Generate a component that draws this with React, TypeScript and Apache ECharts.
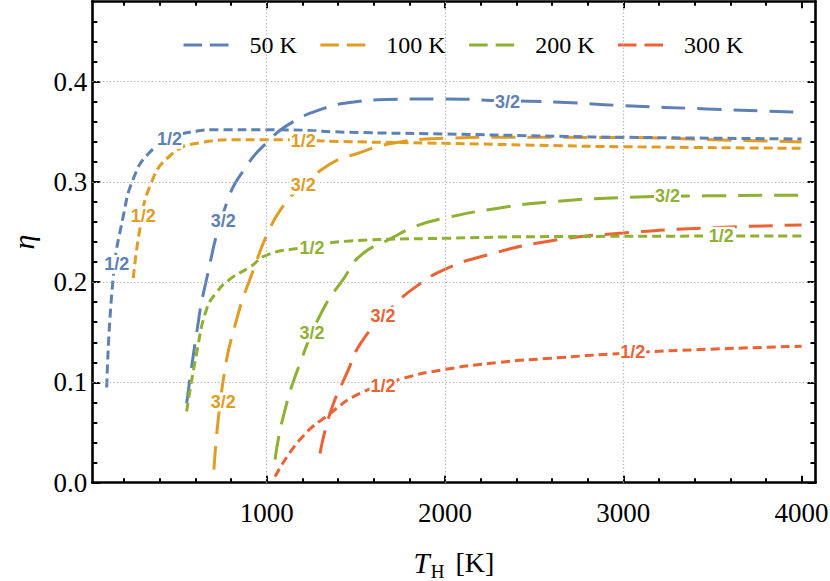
import React, { useEffect, useRef } from "react";
import * as echarts from "echarts";

// ---- axes / ticks ----
const X_MIN = 22;
const X_MAX = 4078;
const Y_MIN = 0;
const Y_MAX = 0.48;
const xMajorTicks = [1000, 2000, 3000, 4000];
const xMinorTicks = [200, 400, 600, 800, 1200, 1400, 1600, 1800, 2200, 2400, 2600, 2800, 3200, 3400, 3600, 3800];
const yMajorTicks = [0, 0.1, 0.2, 0.3, 0.4];
const yMinorTicks = [0.02, 0.04, 0.06, 0.08, 0.12, 0.14, 0.16, 0.18, 0.22, 0.24, 0.26, 0.28, 0.32, 0.34, 0.36, 0.38, 0.42, 0.44, 0.46];
const xGridLines = [1000, 2000, 3000];
const yGridLines = [0.1, 0.2, 0.3, 0.4];

// ---- series ----
const legendNames = ["50 K", "100 K", "200 K", "300 K"];
const colors = ["#5E81B5", "#E19C24", "#8FB032", "#EB6235"];

// exponent 3/2 (long dashes)
const threeHalf50 = [[551, 0.079], [607, 0.149], [654, 0.196], [776, 0.279], [888, 0.316], [1000, 0.339], [1131, 0.358], [1317, 0.373], [1467, 0.379], [1673, 0.382], [2000, 0.3827], [2308, 0.381], [2645, 0.3794], [3000, 0.376], [3468, 0.3727], [4000, 0.3694]];
const threeHalf100 = [[704, 0.013], [757, 0.103], [832, 0.163], [925, 0.212], [1019, 0.254], [1093, 0.276], [1149, 0.288], [1299, 0.311], [1411, 0.323], [1486, 0.327], [1692, 0.338], [2000, 0.3434], [2308, 0.3444], [3000, 0.3442], [3500, 0.342], [4000, 0.3398]];
const threeHalf200 = [[1047, 0.023], [1093, 0.066], [1187, 0.119], [1317, 0.173], [1430, 0.203], [1523, 0.226], [1692, 0.243], [1841, 0.256], [2002, 0.264], [2308, 0.274], [2589, 0.28], [3000, 0.2844], [3468, 0.286], [4000, 0.2867]];
const threeHalf300 = [[1299, 0.029], [1355, 0.069], [1449, 0.109], [1542, 0.143], [1710, 0.176], [1841, 0.196], [2002, 0.213], [2215, 0.226], [2589, 0.241], [3000, 0.249], [3468, 0.254], [4000, 0.257]];

// exponent 1/2 (short dashes)
const half50 = [[103, 0.095], [140, 0.206], [196, 0.266], [252, 0.303], [336, 0.328], [458, 0.342], [551, 0.349], [757, 0.352], [1000, 0.352], [1467, 0.3494], [2000, 0.3477], [2645, 0.3454], [3000, 0.3444], [4000, 0.3427]];
const half100 = [[252, 0.204], [289, 0.253], [346, 0.296], [458, 0.326], [626, 0.339], [850, 0.342], [1000, 0.342], [1467, 0.34], [2000, 0.3384], [2645, 0.336], [3000, 0.335], [4000, 0.3334]];
const half200 = [[551, 0.071], [607, 0.129], [663, 0.173], [720, 0.19], [794, 0.203], [906, 0.215], [1000, 0.227], [1187, 0.234], [1467, 0.241], [2000, 0.2437], [2589, 0.2454], [4000, 0.246]];
const half300 = [[1047, 0.006], [1187, 0.043], [1355, 0.069], [1523, 0.089], [1766, 0.104], [2002, 0.113], [2308, 0.12], [2589, 0.124], [3000, 0.129], [3468, 0.133], [4000, 0.136]];

// curve labels: [x, y, text]
const labels50 = [[159, 0.2177, "1/2"], [455, 0.3424, "1/2"], [756, 0.261, "3/2"], [2350, 0.38, "3/2"]];
const labels100 = [[308, 0.2664, "1/2"], [1205, 0.3405, "1/2"], [1205, 0.2969, "3/2"], [756, 0.0805, "3/2"]];
const labels200 = [[1254, 0.2339, "1/2"], [3550, 0.2457, "1/2"], [1254, 0.1494, "3/2"], [3248, 0.2854, "3/2"]];
const labels300 = [[1653, 0.0965, "1/2"], [3053, 0.13, "1/2"], [1653, 0.166, "3/2"]];

const threeHalfAll = [threeHalf50, threeHalf100, threeHalf200, threeHalf300];
const halfAll = [half50, half100, half200, half300];
const labelsAll = [labels50, labels100, labels200, labels300];

const SERIF = "'Liberation Serif', 'DejaVu Serif', serif";
const SANS = "'Liberation Sans', Arial, sans-serif";

export default function App() {
  const ref = useRef<HTMLDivElement>(null);

  useEffect(() => {
    if (!ref.current) return;
    const chart = echarts.init(ref.current, null, { renderer: "svg" });

    const frame = { show: true, onZero: false, lineStyle: { color: "#000", width: 2.6 } };
    const tickLine = { color: "#000", width: 2 };

    const xBase = { type: "value", min: X_MIN, max: X_MAX, splitLine: { show: false } };
    const yBase = { type: "value", min: Y_MIN, max: Y_MAX, splitLine: { show: false } };

    const xAxis = [
      {
        ...xBase,
        position: "bottom",
        axisLine: frame,
        axisTick: { show: true, inside: true, length: 7, customValues: xMajorTicks, lineStyle: tickLine },
        axisLabel: {
          show: true,
          customValues: xMajorTicks,
          margin: 16,
          fontFamily: SERIF,
          fontSize: 27,
          lineHeight: 28,
          color: "#000",
          formatter: (v: number) => String(v),
        },
        name: "{t|T}{h|H}{k|[K]}",
        nameLocation: "middle",
        nameGap: 62,
        nameTextStyle: {
          color: "#000",
          fontFamily: SERIF,
          rich: {
            t: { fontFamily: SERIF, fontStyle: "italic", fontSize: 29, lineHeight: 36, color: "#000" },
            h: { fontFamily: SERIF, fontSize: 19, lineHeight: 19, verticalAlign: "bottom", color: "#000", padding: [0, 0, 0, 1] },
            k: { fontFamily: SERIF, fontSize: 28, lineHeight: 36, color: "#000", padding: [0, 0, 0, 11] },
          },
        },
      },
      {
        ...xBase,
        position: "bottom",
        axisLine: { show: false, onZero: false },
        axisTick: { show: true, inside: true, length: 4.5, customValues: xMinorTicks, lineStyle: tickLine },
        axisLabel: { show: false },
      },
      {
        ...xBase,
        position: "top",
        axisLine: frame,
        axisTick: { show: true, inside: true, length: 7, customValues: xMajorTicks, lineStyle: tickLine },
        axisLabel: { show: false },
      },
      {
        ...xBase,
        position: "top",
        axisLine: { show: false, onZero: false },
        axisTick: { show: true, inside: true, length: 4.5, customValues: xMinorTicks, lineStyle: tickLine },
        axisLabel: { show: false },
      },
    ];

    const yAxis = [
      {
        ...yBase,
        position: "left",
        axisLine: frame,
        axisTick: { show: true, inside: true, length: 8, customValues: yMajorTicks, lineStyle: tickLine },
        axisLabel: {
          show: true,
          customValues: yMajorTicks,
          margin: 5,
          fontFamily: SERIF,
          fontSize: 27,
          color: "#000",
          verticalAlign: "middle",
          padding: [7, 0, 0, 0],
          formatter: (v: number) => v.toFixed(1),
        },
        name: "η",
        nameLocation: "middle",
        nameRotate: 90,
        nameGap: 54,
        nameTextStyle: { fontFamily: SERIF, fontStyle: "italic", fontSize: 30, color: "#000" },
      },
      {
        ...yBase,
        position: "left",
        axisLine: { show: false, onZero: false },
        axisTick: { show: true, inside: true, length: 5, customValues: yMinorTicks, lineStyle: tickLine },
        axisLabel: { show: false },
      },
      {
        ...yBase,
        position: "right",
        axisLine: frame,
        axisTick: { show: true, inside: true, length: 8, customValues: yMajorTicks, lineStyle: tickLine },
        axisLabel: { show: false },
      },
      {
        ...yBase,
        position: "right",
        axisLine: { show: false, onZero: false },
        axisTick: { show: true, inside: true, length: 5, customValues: yMinorTicks, lineStyle: tickLine },
        axisLabel: { show: false },
      },
    ];

    const series: any[] = [];

    series.push({
      name: "grid",
      type: "line",
      data: [],
      silent: true,
      z: 1,
      markLine: {
        silent: true,
        symbol: ["none", "none"],
        label: { show: false },
        lineStyle: { color: "#b0b0b0", width: 1.2, type: [1.2, 2.3] },
        emphasis: { disabled: true },
        data: [
          ...xGridLines.map((v) => ({ xAxis: v })),
          ...yGridLines.map((v) => ({ yAxis: v })),
        ],
      },
    });

    threeHalfAll.forEach((d, i) => {
      series.push({
        name: legendNames[i],
        type: "line",
        data: d,
        symbol: "none",
        showSymbol: false,
        smooth: 0.5,
        silent: true,
        z: 2,
        lineStyle: { color: colors[i], width: 3, type: [24, 12] },
        itemStyle: { color: colors[i] },
        emphasis: { disabled: true },
      });
    });

    halfAll.forEach((d, i) => {
      series.push({
        name: legendNames[i] + " (1/2)",
        type: "line",
        data: d,
        symbol: "none",
        showSymbol: false,
        smooth: 0.5,
        silent: true,
        z: 2,
        lineStyle: { color: colors[i], width: 3, type: [9, 5] },
        itemStyle: { color: colors[i] },
        emphasis: { disabled: true },
      });
    });

    labelsAll.forEach((d, i) => {
      series.push({
        name: legendNames[i] + " labels",
        type: "scatter",
        data: d,
        symbol: "circle",
        symbolSize: 2,
        silent: true,
        z: 5,
        itemStyle: { color: "rgba(255,255,255,0)" },
        label: {
          show: true,
          position: "inside",
          formatter: (p: any) => p.value[2],
          color: colors[i],
          opacity: 1,
          fontFamily: SANS,
          fontSize: 18,
          fontWeight: "bold",
          backgroundColor: "#ffffff",
          padding: [1, 1, 0, 1],
        },
        labelLayout: { hideOverlap: false },
        emphasis: { disabled: true },
      });
    });

    chart.setOption({
      animation: false,
      backgroundColor: "#ffffff",
      textStyle: { fontFamily: SERIF },
      grid: {
        left: 92.3,
        top: 1.3,
        width: 723.2,
        height: 481.4,
        containLabel: false,
        outerBoundsMode: "none",
      },
      legend: {
        data: legendNames,
        left: 177,
        top: 28,
        itemWidth: 45,
        itemHeight: 24,
        itemGap: 22,
        selectedMode: false,
        itemStyle: { opacity: 0 },
        lineStyle: { type: [18.5, 8], width: 3 },
        textStyle: { fontFamily: SERIF, fontSize: 24, color: "#000", padding: [0, 0, 0, 16] },
      },
      xAxis,
      yAxis,
      series,
    });

    return () => {
      chart.dispose();
    };
  }, []);

  return (
    <div
      ref={ref}
      style={{ position: "absolute", left: 0, top: 0, width: 830, height: 581, background: "#fff" }}
    />
  );
}
